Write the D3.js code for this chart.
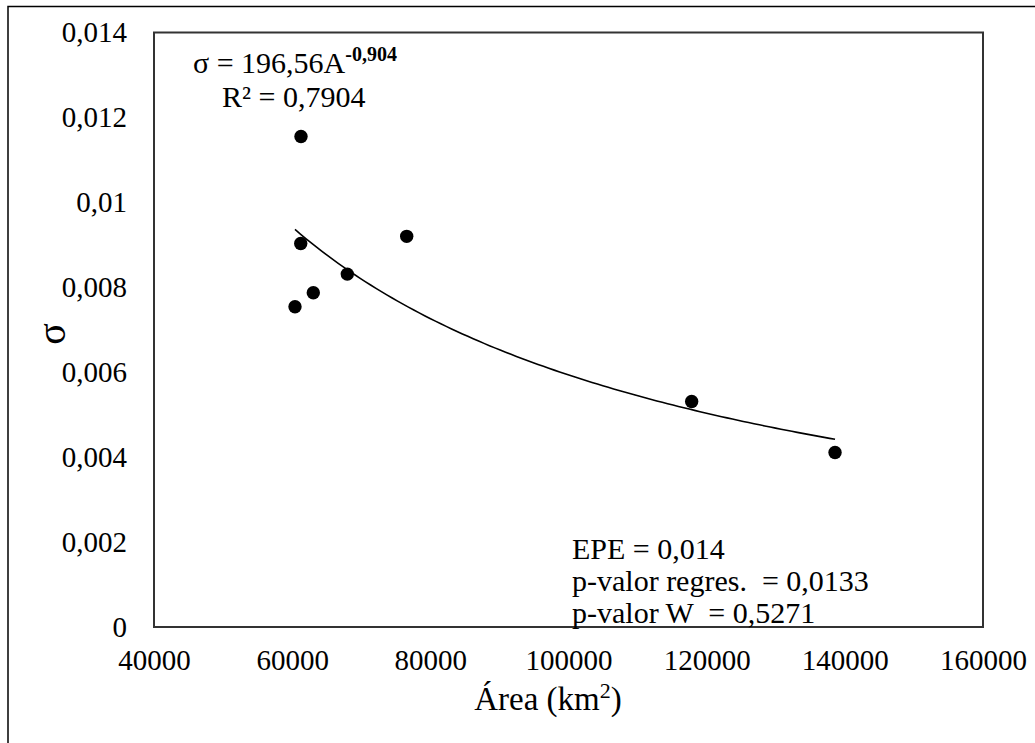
<!DOCTYPE html>
<html>
<head>
<meta charset="utf-8">
<script src="https://cdn.jsdelivr.net/npm/d3@7"></script>
<style>
  body { margin: 0; background: #fff; }
  svg { display: block; }
  text { font-family: "Liberation Serif", "Times New Roman", serif; fill: #000; }
</style>
</head>
<body>
<div class="diagram"></div>
<script>
// área (km2) e sigma de cada ponto
const areas  = [61278, 61240, 76580, 67980, 63060, 60410, 117830, 138580];
const sigmas = [0.01155, 0.00903, 0.00920, 0.00831, 0.00787, 0.00754, 0.00531, 0.00411];

const xTicks = [40000, 60000, 80000, 100000, 120000, 140000, 160000];
const yTicks = [0, 0.002, 0.004, 0.006, 0.008, 0.01, 0.012, 0.014];
const yTickLabels = ["0", "0,002", "0,004", "0,006", "0,008", "0,01", "0,012", "0,014"];

// ajuste potência mostrado no gráfico
const coefA = 196.56;
const expoB = -0.904;

const chart = {
  w: 1035,
  h: 743,
  left: 154,
  right: 983,
  top: 32.5,
  bottom: 627,
  draw: () => {
    const svg = d3.select(".diagram")
                  .append("svg")
                  .attr("width", chart.w)
                  .attr("height", chart.h);

    // moldura externa (cortada à direita e embaixo)
    svg.append("rect")
       .attr("x", 8).attr("y", 6.5)
       .attr("width", 1200).attr("height", 900)
       .attr("fill", "none").attr("stroke", "#000").attr("stroke-width", 1.5);

    const xScale = d3.scaleLinear()
                     .domain([40000, 160000])
                     .range([chart.left, chart.right]);
    const yScale = d3.scaleLinear()
                     .domain([0, 0.014])
                     .range([chart.bottom, chart.top]);

    svg.append("rect")
       .attr("x", chart.left).attr("y", chart.top)
       .attr("width", chart.right - chart.left)
       .attr("height", chart.bottom - chart.top)
       .attr("fill", "none").attr("stroke", "#333").attr("stroke-width", 2);

    const yAxis = svg.append("g")
       .attr("transform", `translate(${chart.left},0)`)
       .call(d3.axisLeft(yScale).tickValues(yTicks).tickSize(0).tickPadding(27)
               .tickFormat((d, i) => yTickLabels[i]));
    yAxis.select(".domain").remove();
    yAxis.selectAll("text")
         .attr("font-family", "Liberation Serif").attr("font-size", 29).attr("fill", "#000");

    const xAxis = svg.append("g")
       .attr("transform", `translate(0,${chart.bottom})`)
       .call(d3.axisBottom(xScale).tickValues(xTicks).tickSize(0).tickPadding(22)
               .tickFormat(d => String(d)));
    xAxis.select(".domain").remove();
    xAxis.selectAll("text")
         .attr("font-family", "Liberation Serif").attr("font-size", 29).attr("fill", "#000");

    // linha de tendência
    const xMin = d3.min(areas), xMax = d3.max(areas);
    const curve = d3.range(0, 101).map(i => {
      const a = xMin + (xMax - xMin) * i / 100;
      return [a, coefA * Math.pow(a, expoB)];
    });
    svg.append("path")
       .datum(curve)
       .attr("d", d3.line().x(d => xScale(d[0])).y(d => yScale(d[1])))
       .attr("fill", "none").attr("stroke", "#000").attr("stroke-width", 1.6);

    svg.selectAll("circle.pt")
       .data(areas)
       .enter()
       .append("circle")
       .attr("class", "pt")
       .attr("cx", d => xScale(d))
       .attr("cy", (d, i) => yScale(sigmas[i]))
       .attr("r", 6.7)
       .attr("fill", "#000");

    // equação e R²
    const eq = svg.append("text").attr("x", 193).attr("y", 73).attr("font-size", 30);
    eq.append("tspan").text("σ = 196,56A");
    eq.append("tspan").attr("dy", -12).attr("font-size", 20).attr("font-weight", "bold").text("-0,904");
    svg.append("text").attr("x", 222).attr("y", 107).attr("font-size", 30).text("R² = 0,7904");

    const stats = ["EPE = 0,014", "p-valor regres.  = 0,0133", "p-valor W  = 0,5271"];
    svg.selectAll("text.stat")
       .data(stats)
       .enter()
       .append("text")
       .attr("class", "stat")
       .attr("x", 572)
       .attr("y", (d, i) => 559 + i * 32)
       .attr("font-size", 30)
       .style("white-space", "pre")
       .text(d => d);

    // títulos dos eixos
    const xl = svg.append("text")
       .attr("x", 548).attr("y", 710)
       .attr("text-anchor", "middle").attr("font-size", 33);
    xl.append("tspan").text("Área (km");
    xl.append("tspan").attr("dy", -12).attr("font-size", 22).text("2");
    xl.append("tspan").attr("dy", 12).text(")");

    svg.append("text")
       .attr("transform", "translate(65,334) rotate(-90)")
       .attr("text-anchor", "middle")
       .attr("font-family", "Liberation Sans")
       .attr("font-size", 40)
       .text("σ");
  }
};

chart.draw();
</script>
</body>
</html>
